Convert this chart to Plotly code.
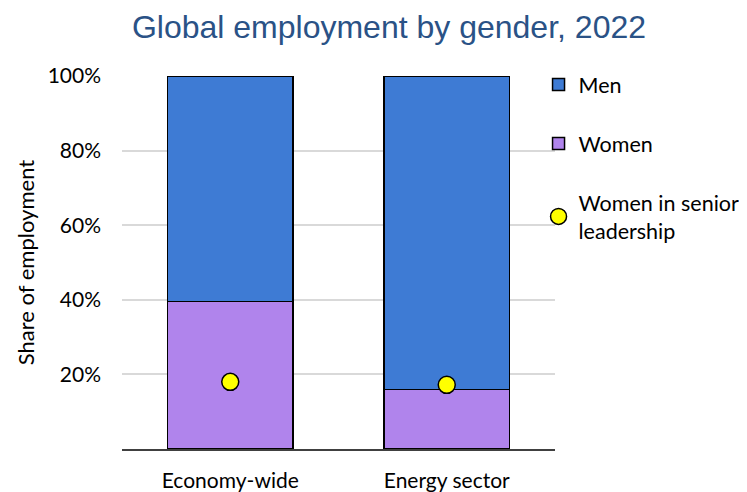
import plotly.graph_objects as go

categories = ["Economy-wide", "Energy sector"]
women = [0.395, 0.16]
men = [0.605, 0.84]
senior_women = [0.18, 0.172]
tick_vals = [0.2, 0.4, 0.6, 0.8, 1.0]
tick_text = ["20%", "40%", "60%", "80%", "100%"]

font_main = "Lato, Calibri, Carlito, sans-serif"

fig = go.Figure()
fig.add_trace(go.Bar(
    x=categories, y=women, name="Women",
    marker=dict(color="#B084EC", line=dict(color="#000000", width=1.5)),
    width=0.58, legendrank=2, legendgroup="w",
))
fig.add_trace(go.Bar(
    x=categories, y=men, name="Men",
    marker=dict(color="#3E7BD4", line=dict(color="#000000", width=1.5)),
    width=0.58, legendrank=1, legendgroup="m",
))
fig.add_trace(go.Scatter(
    x=categories, y=senior_women, name="Women in senior<br>leadership",
    mode="markers",
    marker=dict(color="#FFFF00", size=17, line=dict(color="#000000", width=1.5)),
    legendrank=3, legendgroup="s",
))

fig.update_layout(
    width=747, height=492,
    barmode="stack",
    plot_bgcolor="white", paper_bgcolor="white",
    margin=dict(l=114, r=200, t=68, b=51, autoexpand=False),
    title=dict(
        text="Global employment by gender, 2022",
        font=dict(family="Liberation Sans, Arial, sans-serif", size=32, color="#2A5286"),
        x=0.51, xanchor="center", y=0.961, yanchor="middle",
    ),
    font=dict(family=font_main, size=20, color="#000000"),
    legend=dict(
        x=0.962, xanchor="left", y=1.032, yanchor="top",
        font=dict(family=font_main, size=21.5, color="#000000"),
        tracegroupgap=28, itemwidth=30,
        bgcolor="rgba(0,0,0,0)",
    ),
    xaxis=dict(
        showline=True, linecolor="#404040", linewidth=2,
        ticks="", showgrid=False, automargin=False,
        tickfont=dict(family=font_main, size=21),
        ticklabelstandoff=12,
    ),
    yaxis=dict(
        range=[0, 1], tickvals=tick_vals, ticktext=tick_text,
        showgrid=True, gridcolor="#D9D9D9", gridwidth=2,
        zeroline=False, showline=False, ticks="", automargin=False,
        tickfont=dict(family=font_main, size=21),
        ticklabelstandoff=20,
        title=dict(text="Share of employment", font=dict(family=font_main, size=22), standoff=6),
    ),
)

fig.write_html("out.html")
